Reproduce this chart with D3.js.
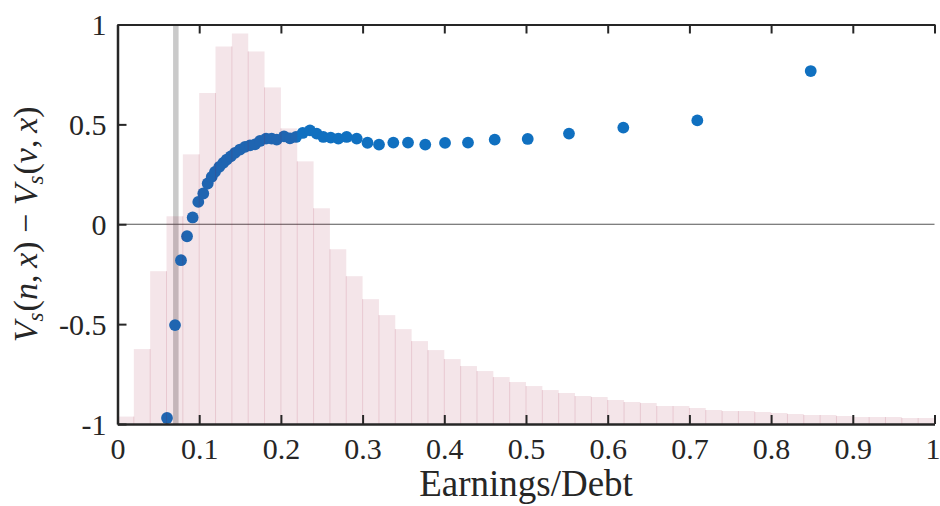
<!DOCTYPE html>
<html>
<head>
<meta charset="utf-8">
<script src="https://cdn.jsdelivr.net/npm/d3@7"></script>
<style>
  body { margin: 0; background: #fff; }
  svg { display: block; }
  text { font-family: "Liberation Serif", "DejaVu Serif", serif; fill: #262626; }
</style>
</head>
<body>
<div id="chart"></div>
<script>
// histogram of earnings/debt, bin width 0.02 (heights on the hidden right axis, 0..2)
var binWidth = 0.02;
var histHeights = [0.037, 0.375, 0.765, 1.04, 1.35, 1.657, 1.89, 1.955, 1.865, 1.685,
    1.48, 1.315, 1.08, 0.875, 0.74, 0.625, 0.545, 0.475, 0.415, 0.37,
    0.325, 0.29, 0.265, 0.235, 0.21, 0.19, 0.17, 0.155, 0.14, 0.135,
    0.12, 0.11, 0.105, 0.09, 0.09, 0.08, 0.07, 0.065, 0.065, 0.06,
    0.055, 0.05, 0.045, 0.045, 0.04, 0.035, 0.035, 0.035, 0.03, 0.03];

// value difference points
var pointX = [0.0606, 0.0704, 0.0777, 0.0851, 0.0920, 0.0989, 0.1050, 0.1104, 0.1153, 0.1193,
    0.1246, 0.1295, 0.1337, 0.1386, 0.1438, 0.1499, 0.1561, 0.1622, 0.1683, 0.1744,
    0.1818, 0.1887, 0.1949, 0.2038, 0.2111, 0.2185, 0.2267, 0.2356, 0.2438, 0.2519,
    0.2610, 0.2703, 0.2805, 0.2928, 0.3060, 0.3201, 0.3376, 0.3556, 0.3767, 0.4009,
    0.4290, 0.4617, 0.5021, 0.5526, 0.6191, 0.7097, 0.8485];
var pointY = [-0.970, -0.505, -0.180, -0.060, 0.034, 0.112, 0.154, 0.204, 0.237, 0.262,
    0.287, 0.307, 0.324, 0.340, 0.357, 0.374, 0.387, 0.395, 0.400, 0.417,
    0.429, 0.429, 0.424, 0.440, 0.430, 0.437, 0.457, 0.470, 0.454, 0.437,
    0.434, 0.429, 0.437, 0.429, 0.408, 0.399, 0.409, 0.409, 0.399, 0.407,
    0.409, 0.424, 0.427, 0.454, 0.484, 0.520, 0.767];

var threshold = 0.0714;

var xTicks = [0, 0.1, 0.2, 0.3, 0.4, 0.5, 0.6, 0.7, 0.8, 0.9, 1];
var xTickLabels = ["0", "0.1", "0.2", "0.3", "0.4", "0.5", "0.6", "0.7", "0.8", "0.9", "1"];
var yTicks = [-1, -0.5, 0, 0.5, 1];
var yTickLabels = ["-1", "-0.5", "0", "0.5", "1"];

var width = 940, height = 506;
var mLeft = 117.5, mRight = 934.5, mTop = 24.5, mBottom = 424;

var svg = d3.select("#chart").append("svg")
    .attr("width", width)
    .attr("height", height);

var x = d3.scaleLinear().domain([0, 1]).range([mLeft, mRight]);
var y = d3.scaleLinear().domain([-1, 1]).range([mBottom, mTop]);
var yHist = d3.scaleLinear().domain([0, 2]).range([mBottom, mTop]);

// threshold line
svg.append("line")
    .attr("x1", x(threshold)).attr("x2", x(threshold))
    .attr("y1", y(1)).attr("y2", y(-1))
    .attr("stroke", "#808080")
    .attr("stroke-opacity", 0.42)
    .attr("stroke-width", 5.5);

// zero line
svg.append("line")
    .attr("x1", x(0)).attr("x2", x(1))
    .attr("y1", y(0)).attr("y2", y(0))
    .attr("stroke", "#555")
    .attr("stroke-width", 1.2);

// points
svg.selectAll(".pt")
    .data(pointX.map(function(d, i) { return [d, pointY[i]]; }))
    .enter().append("circle")
    .attr("class", "pt")
    .attr("cx", function(d) { return x(d[0]); })
    .attr("cy", function(d) { return y(d[1]); })
    .attr("r", 5.9)
    .attr("fill", "#1070c0");

// histogram bars (drawn on top, translucent like the right axis layer)
var bins = histHeights.map(function(h, i) { return {x0: i * binWidth, x1: (i + 1) * binWidth, h: h}; });
svg.selectAll(".bar")
    .data(bins)
    .enter().append("rect")
    .attr("class", "bar")
    .attr("x", function(d) { return x(d.x0); })
    .attr("width", function(d) { return x(d.x1) - x(d.x0); })
    .attr("y", function(d) { return yHist(d.h); })
    .attr("height", function(d) { return yHist(0) - yHist(d.h); })
    .attr("fill", "rgb(158,16,52)")
    .attr("fill-opacity", 0.11);

// bar edges between neighbours
svg.selectAll(".edge")
    .data(bins.slice(1))
    .enter().append("line")
    .attr("class", "edge")
    .attr("x1", function(d) { return x(d.x0); })
    .attr("x2", function(d) { return x(d.x0); })
    .attr("y1", yHist(0))
    .attr("y2", function(d, i) { return yHist(Math.min(d.h, bins[i].h)); })
    .attr("stroke", "rgb(158,16,52)")
    .attr("stroke-opacity", 0.13)
    .attr("stroke-width", 1);

// axes
var xAxis = svg.append("g")
    .attr("transform", "translate(0," + mBottom + ")")
    .call(d3.axisBottom(x).tickValues(xTicks)
        .tickFormat(function(d, i) { return xTickLabels[i]; })
        .tickSizeInner(-9).tickSizeOuter(0).tickPadding(0));
xAxis.select(".domain").attr("stroke", "#262626").attr("stroke-width", 2.5);
xAxis.selectAll(".tick line").attr("stroke", "#262626").attr("stroke-width", 2);
xAxis.selectAll(".tick text")
    .attr("y", 35).attr("dy", null)
    .attr("dx", function(d, i) { return i === xTicks.length - 1 ? -2 : 0; })
    .style("font-size", "30px")
    .style("font-family", "'Liberation Serif', serif")
    .attr("fill", "#262626");

var topAxis = svg.append("g")
    .attr("transform", "translate(0," + mTop + ")")
    .call(d3.axisTop(x).tickValues(xTicks).tickFormat("")
        .tickSizeInner(-9).tickSizeOuter(0));
topAxis.select(".domain").attr("stroke", "#262626").attr("stroke-width", 2);
topAxis.selectAll(".tick line").attr("stroke", "#262626").attr("stroke-width", 2);

var yAxis = svg.append("g")
    .attr("transform", "translate(" + mLeft + ",0)")
    .call(d3.axisLeft(y).tickValues(yTicks)
        .tickFormat(function(d, i) { return yTickLabels[i]; })
        .tickSizeInner(-9).tickSizeOuter(0).tickPadding(0));
yAxis.select(".domain").attr("stroke", "#262626").attr("stroke-width", 2.5);
yAxis.selectAll(".tick line").attr("stroke", "#262626").attr("stroke-width", 2);
yAxis.selectAll(".tick text")
    .attr("x", -11).attr("dy", "0.34em")
    .style("font-size", "30px")
    .style("font-family", "'Liberation Serif', serif")
    .attr("fill", "#262626");

// x label
svg.append("text")
    .attr("x", (mLeft + mRight) / 2)
    .attr("y", 496)
    .attr("text-anchor", "middle")
    .style("font-size", "37px")
    .text("Earnings/Debt");

// y label, math italic
var yl = svg.append("text")
    .attr("transform", "translate(37," + ((mTop + mBottom) / 2) + ") rotate(-90)")
    .attr("text-anchor", "middle")
    .style("font-size", "34px");
function part(t, it, sub) {
    var s = yl.append("tspan").text(t);
    if (it) s.style("font-style", "italic");
    if (sub) s.style("font-size", "23px").attr("dy", 6);
    return s;
}
part("V", true);
part("s", true, true);
part("(", false).attr("dy", -6).attr("dx", 1);
part("n", true);
part(",\u2009", false);
part("x", true);
part(")\u2005\u2212\u2005", false);
part("V", true);
part("s", true, true);
part("(", false).attr("dy", -6).attr("dx", 1);
part("v", true);
part(",\u2009", false);
part("x", true);
part(")", false);
</script>
</body>
</html>
